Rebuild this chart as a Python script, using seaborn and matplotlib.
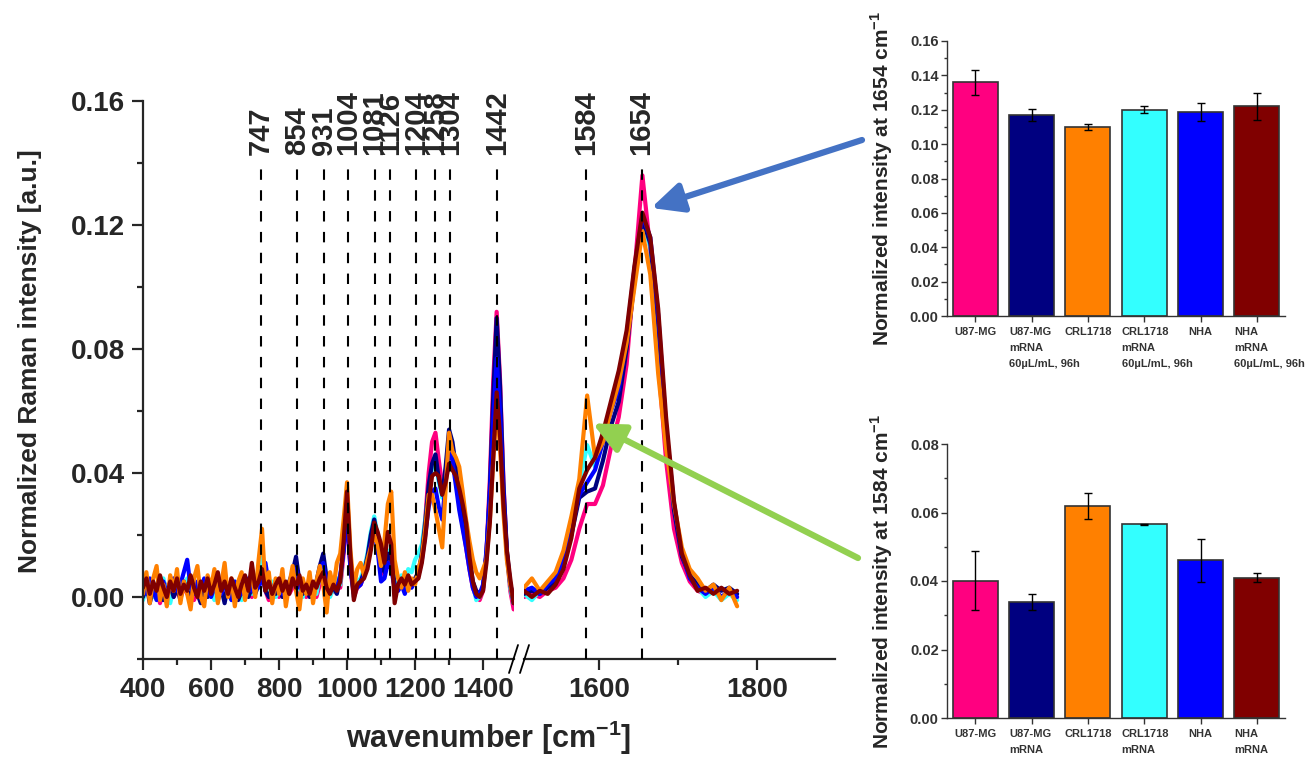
import matplotlib
matplotlib.use("Agg")
import matplotlib.pyplot as plt
import matplotlib.ticker as mticker
from matplotlib.lines import Line2D
import numpy as np
import pandas as pd
import seaborn as sns

# ---- spectra (intensity in 1e-3 a.u.) ----
X_LEFT = np.arange(400, 1500, 10)
X_RIGHT = np.arange(1505, 1785, 10)

SAMPLES = ["U87-MG", "CRL1718 mRNA", "U87-MG mRNA", "NHA", "CRL1718", "NHA mRNA"]
COLORS = ["#FF0080", "#33FFFF", "#000080", "#0000FF", "#FF8000", "#800000"]

U87_L = [1, 2, 4, 0, 3, -2, 2, 4, 1, 0,
         2, 0, 3, 1, 4, -1, 2, 3, 0, 2,
         3, 1, -1, 2, 0, 3, 1, 4, 2, 0,
         1, 3, 0, 2, 4, 9, 2, -1, 2, 3,
         0, 2, 4, 1, 3, 7, 1, 3, 0, 2,
         3, 0, 4, 8, 2, 1, 2, 4, 3, 14,
         28, 9, 0, 3, 4, 7, 12, 18, 22, 18,
         10, 7, 13, 11, 3, 2, 4, 3, 5, 4,
         5, 7, 13, 25, 40, 50, 53, 44, 36, 40,
         50, 45, 38, 30, 23, 16, 9, 3, 0, -1,
         2, 14, 38, 70, 92, 70, 37, 14, 2, -4]
CRLM_L = [-1, 3, 5, 0, 4, 2, 6, 1, -2, 3,
          5, 1, 3, 6, 0, 2, 4, -1, 3, 5,
          2, -1, 4, 2, 6, 0, 3, 5, 1, -1,
          3, 5, 1, 6, 8, 14, 4, 2, 5, 0,
          2, 5, 1, 4, 6, 10, 3, 0, 4, 2,
          4, 1, 7, 12, 5, 0, 3, 6, 4, 17,
          29, 11, 0, 5, 6, 9, 14, 21, 26, 20,
          13, 9, 15, 14, 5, 4, 7, 5, 9, 8,
          12, 14, 17, 25, 34, 42, 44, 37, 32, 41,
          50, 47, 40, 33, 26, 19, 11, 4, -1, 0,
          3, 13, 32, 60, 85, 64, 34, 14, 3, -2]
U87M_L = [0, 4, -2, 3, 1, 5, -1, 2, 4, 0,
          3, -1, 5, 2, 0, 4, 1, -2, 3, 0,
          2, 5, 0, 3, -2, 4, 1, 3, -1, 2,
          4, 0, 3, 1, 4, 8, 2, 0, 3, 1,
          4, 0, 2, 5, 8, 13, 5, 1, 3, 0,
          2, 5, 10, 14, 6, 2, 3, 1, 6, 16,
          30, 10, 1, 4, 5, 8, 13, 20, 25, 19,
          11, 8, 14, 12, 4, 3, 5, 3, 6, 4,
          6, 8, 14, 24, 36, 43, 46, 38, 33, 42,
          54, 50, 42, 34, 27, 20, 12, 5, 2, 1,
          3, 14, 35, 65, 90, 68, 36, 15, 4, -2]
NHA_L = [4, 1, 6, 2, -1, 3, 5, 1, 3, 6,
         2, 4, 8, 12, 3, 1, 5, 2, 6, 3,
         0, 3, 5, 1, 4, 2, -1, 5, 3, 1,
         3, 6, 2, 4, 3, 6, 11, 4, 2, 5,
         3, 1, 4, 2, 5, 9, 3, 5, 2, 4,
         1, 4, 9, 11, 4, 2, 5, 3, 7, 15,
         28, 9, 2, 3, 4, 7, 11, 17, 21, 15,
         5, 6, 11, 9, 3, 2, 4, 1, 5, 3,
         5, 7, 12, 20, 29, 34, 35, 29, 25, 37,
         48, 44, 36, 28, 22, 16, 9, 3, 0, 1,
         4, 15, 33, 57, 77, 60, 33, 14, 4, 0]
CRL_L = [1, 8, -2, 6, 10, -1, 4, -3, 7, 2,
         9, -2, 5, 1, -4, 6, 10, 0, -3, 7,
         3, 9, -2, 4, 11, 0, 6, -3, 5, 8,
         -1, 4, 7, 0, 12, 22, 3, 8, -2, 6,
         1, 9, -3, 4, 10, 2, -4, 6, 1, 8,
         -2, 5, 10, 4, -5, 8, 3, 11, 14, 25,
         37, 15, 3, 9, 11, 7, 12, 16, 20, 17,
         10, 18, 30, 34, 12, 6, 3, 8, 2, 6,
         4, 9, 13, 22, 33, 33, 28, 22, 16, 35,
         53, 47, 45, 42, 34, 25, 18, 12, 8, 6,
         9, 12, 25, 44, 62, 48, 27, 12, 4, -1]
NHAM_L = [3, 6, 1, 5, 2, 7, 3, 0, 5, 2,
          6, 1, 4, 2, 7, 3, 0, 5, 2, 6,
          1, 4, 8, 2, 5, 1, 6, 3, 0, 4,
          7, 2, 11, 3, 5, 9, 2, 5, 1, 4,
          6, 2, 5, 1, 6, 3, 7, 2, 4, 1,
          5, 3, 6, 8, 3, 1, 4, 2, 5, 18,
          34, 13, -1, 4, 5, 6, 9, 15, 24, 21,
          17, 11, 21, 17, -2, 4, 6, 4, 7, 4,
          5, 6, 11, 19, 30, 39, 40, 39, 33, 37,
          43, 41, 39, 35, 30, 24, 13, 5, 1, 0,
          2, 11, 24, 45, 66, 52, 30, 15, 6, -2]

U87_R = [0, 1, 0, 2, 3, 6, 12, 22, 30, 30, 36, 48, 58, 75, 105, 136, 112, 76, 44, 22, 11, 5, 2, 1, 2, 0, 1, 0]
CRLM_R = [1, -1, 2, 3, 6, 13, 23, 36, 49, 42, 52, 60, 68, 83, 104, 121, 113, 86, 52, 29, 14, 8, 3, 0, 2, -1, 1, -1]
U87M_R = [1, 2, 1, 3, 5, 11, 20, 32, 34, 35, 44, 55, 63, 80, 102, 122, 114, 88, 54, 28, 13, 7, 4, 2, 4, 2, 3, 1]
NHA_R = [2, 3, 1, 4, 6, 12, 22, 33, 37, 41, 50, 60, 67, 84, 106, 123, 116, 91, 55, 30, 14, 6, 3, 1, 3, 0, 2, 0]
CRL_R = [3, 6, 2, 5, 8, 15, 26, 38, 65, 45, 50, 60, 69, 82, 100, 118, 104, 72, 48, 30, 16, 9, 6, 2, 4, -1, 3, -3]
NHAM_R = [2, 0, 2, 1, 4, 9, 19, 35, 41, 45, 53, 63, 73, 86, 107, 124, 116, 93, 58, 31, 14, 7, 2, 3, 1, 3, 1, 2]

PEAKS = [747, 854, 931, 1004, 1081, 1126, 1204, 1258, 1304, 1442, 1584, 1654]

# ---- bar charts ----
BAR_NAMES = ["U87-MG", "U87-MG mRNA", "CRL1718", "CRL1718 mRNA", "NHA", "NHA mRNA"]
BAR_COLORS = ["#FF0080", "#000080", "#FF8000", "#33FFFF", "#0000FF", "#800000"]
I1654 = [0.136, 0.117, 0.110, 0.120, 0.1185, 0.122]
E1654 = [0.0073, 0.0033, 0.0017, 0.0019, 0.0052, 0.0077]
I1584 = [0.0401, 0.0339, 0.0618, 0.0565, 0.0460, 0.0410]
E1584 = [0.0087, 0.0023, 0.0038, 0.0002, 0.0062, 0.0014]
TICKS_1654 = ["U87-MG", "U87-MG\nmRNA\n60µL/mL, 96h", "CRL1718",
              "CRL1718\nmRNA\n60µL/mL, 96h", "NHA", "NHA\nmRNA\n60µL/mL, 96h"]
TICKS_1584 = ["U87-MG", "U87-MG\nmRNA", "CRL1718", "CRL1718\nmRNA", "NHA", "NHA\nmRNA"]

sns.set_style("ticks")
plt.rcParams["font.family"] = ["Liberation Sans", "DejaVu Sans"]
plt.rcParams["font.weight"] = "bold"
plt.rcParams["axes.labelweight"] = "bold"
plt.rcParams["mathtext.fontset"] = "custom"
plt.rcParams["mathtext.rm"] = "Liberation Sans"
plt.rcParams["mathtext.bf"] = "Liberation Sans:bold"

W, H = 1309, 758
fig = plt.figure(figsize=(W / 100, H / 100), dpi=100)


def box(l, t, r, b):
    return [l / W, 1 - b / H, (r - l) / W, (b - t) / H]


def long_frame(x, series):
    parts = [pd.DataFrame({"wavenumber": x, "intensity": np.array(v) / 1000.0, "sample": n})
             for n, v in series.items()]
    return pd.concat(parts, ignore_index=True)


df_left = long_frame(X_LEFT, dict(zip(SAMPLES, [U87_L, CRLM_L, U87M_L, NHA_L, CRL_L, NHAM_L])))
df_right = long_frame(X_RIGHT, dict(zip(SAMPLES, [U87_R, CRLM_R, U87M_R, NHA_R, CRL_R, NHAM_R])))

ax_l = fig.add_axes(box(143, 101, 514, 659))
ax_r = fig.add_axes(box(524, 101, 835, 659))

for ax, df, lim in ((ax_l, df_left, (400, 1491)), (ax_r, df_right, (1505, 1899))):
    sns.lineplot(data=df, x="wavenumber", y="intensity", hue="sample", hue_order=SAMPLES,
                 palette=COLORS, estimator=None, legend=False, lw=3.0, ax=ax)
    ax.set_xlim(*lim)
    ax.set_ylim(-0.02, 0.16)
    ax.set_xlabel("")
    ax.set_ylabel("")
    ax.spines[["top", "right"]].set_visible(False)
    for s in ax.spines.values():
        s.set_linewidth(1.6)
    ax.tick_params(which="major", direction="out", length=8, width=1.6, labelsize=20, pad=5)
    ax.tick_params(which="minor", direction="out", length=4, width=1.6)
    pk = [p for p in PEAKS if lim[0] < p < lim[1]]
    ax.vlines(pk, -0.02, 0.141, colors="k", linestyles=(0, (5, 5)), lw=1.5, zorder=5)
    for p in pk:
        ax.text(p, 0.1425, str(p), rotation=90, ha="center", va="bottom",
                fontsize=21, fontweight="bold", clip_on=False)

ax_l.set_xticks(range(400, 1500, 200))
ax_l.xaxis.set_minor_locator(mticker.FixedLocator(range(500, 1400, 200)))
ax_l.yaxis.set_major_locator(mticker.MultipleLocator(0.04))
ax_l.yaxis.set_minor_locator(mticker.MultipleLocator(0.02))
ax_l.yaxis.set_major_formatter(mticker.FormatStrFormatter("%.2f"))
ax_l.set_ylabel("Normalized Raman intensity [a.u.]", fontsize=19)
ax_l.yaxis.set_label_coords(-0.272, 0.534)

ax_r.set_xticks([1600, 1800])
ax_r.xaxis.set_minor_locator(mticker.FixedLocator([1700]))
ax_r.spines["left"].set_visible(False)
ax_r.tick_params(axis="y", which="both", left=False, labelleft=False)

fig.text(489 / W, 1 - 738 / H, r"wavenumber [cm$^{\mathbf{-1}}$]", ha="center", va="center",
         fontsize=22, fontweight="bold")

# axis break marks
for x0 in (509, 520):
    fig.add_artist(Line2D([x0 / W, (x0 + 9) / W], [1 - 673 / H, 1 - 645 / H],
                          transform=fig.transFigure, color="k", lw=1.3))

# ---- bar charts ----
ax_b1 = fig.add_axes(box(947, 41, 1285, 316))
ax_b2 = fig.add_axes(box(947, 444, 1285, 718))
for ax, vals, errs, ticks, top, step, label in (
        (ax_b1, I1654, E1654, TICKS_1654, 0.16, 0.02, r"Normalized intensity at 1654 cm$^{\mathbf{-1}}$"),
        (ax_b2, I1584, E1584, TICKS_1584, 0.08, 0.02, r"Normalized intensity at 1584 cm$^{\mathbf{-1}}$")):
    sns.barplot(x=BAR_NAMES, y=vals, hue=BAR_NAMES, palette=BAR_COLORS, legend=False,
                saturation=1, width=0.8, edgecolor="#333333", linewidth=1.2, errorbar=None, ax=ax)
    ax.errorbar(range(len(vals)), vals, yerr=errs, fmt="none", ecolor="k",
                elinewidth=1, capsize=3, capthick=1)
    ax.set_xlim(-0.5, 5.5)
    ax.set_ylim(0, top)
    ax.yaxis.set_major_locator(mticker.MultipleLocator(step))
    ax.yaxis.set_minor_locator(mticker.MultipleLocator(step / 2))
    ax.yaxis.set_major_formatter(mticker.FormatStrFormatter("%.2f"))
    ax.spines[["top", "right"]].set_visible(False)
    for s in ax.spines.values():
        s.set_linewidth(1)
        s.set_color("#333333")
    ax.tick_params(which="major", direction="out", length=4, width=1, labelsize=10.5,
                   colors="#333333", pad=2)
    ax.tick_params(which="minor", direction="out", length=2, width=1, colors="#333333")
    ax.set_xticks(range(len(ticks)))
    ax.set_xticklabels([])
    for i, lab in enumerate(ticks):
        multi = "\n" in lab
        ax.annotate(lab, xy=(i - 0.4 if multi else i, 0), xycoords=("data", "axes fraction"),
                    xytext=(0, -8), textcoords="offset points",
                    ha="left" if multi else "center", va="top", fontsize=8,
                    fontweight="bold", linespacing=1.75, color="#333333")
    ax.set_xlabel("")
    ax.set_ylabel(label, fontsize=15)
    ax.yaxis.set_label_coords(-0.155, 0.5)

# ---- arrows pointing from the bar charts to the peaks ----
for xy, tail, col in (((1666, 0.1255), (862, 140), "#4472C4"),
                      ((1592, 0.056), (858, 558), "#92D050")):
    ax_r.annotate("", xy=xy, xytext=(tail[0] / W, 1 - tail[1] / H), textcoords="figure fraction",
                  arrowprops=dict(arrowstyle="-|>,head_length=0.95,head_width=0.45", color=col,
                                  lw=4.5, shrinkA=0, shrinkB=0, mutation_scale=20),
                  annotation_clip=False, zorder=10)

fig.savefig("out.png", dpi=100)
